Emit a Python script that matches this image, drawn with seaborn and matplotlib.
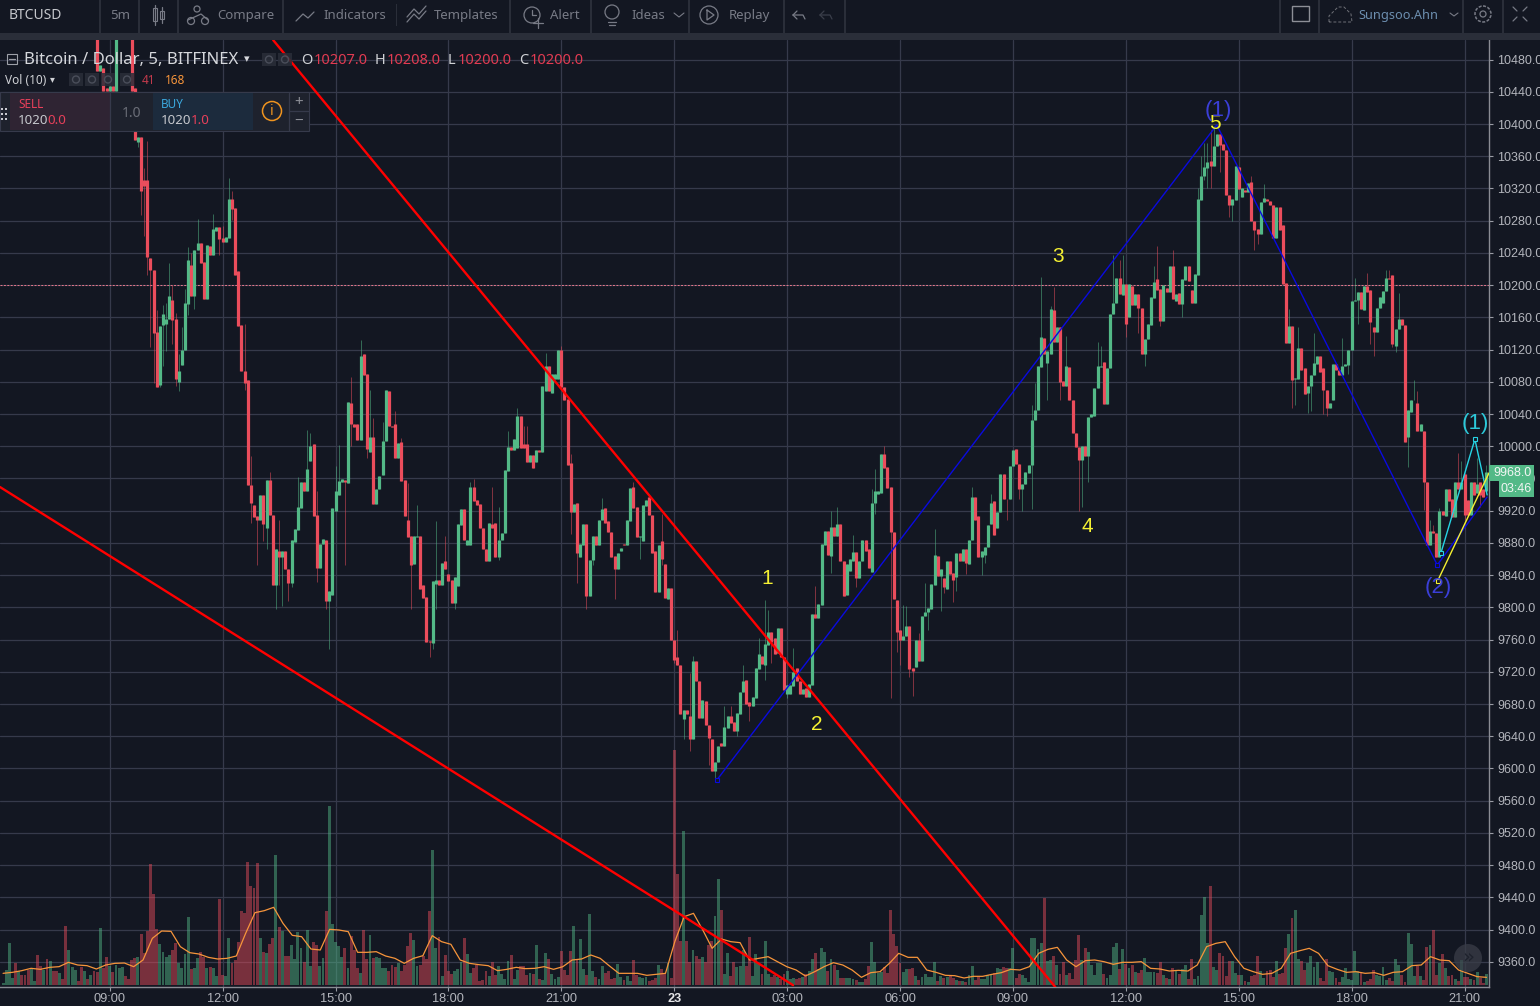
# BTCUSD 5m chart, dark theme
import pandas as pd
import matplotlib
matplotlib.use("Agg")
import matplotlib.pyplot as plt
from matplotlib.patches import Rectangle, Circle
import seaborn as sns

#%% data
first_bar = -34  # bars are counted from 09:00 on the 22nd, 5 minutes each

opens = [10540,10548,10552,10560,10566,10562,10570,10564,10558,10552,10560,10564,10556,10550,10556,10552,10558,10552,10546,10552,
10540,10530,10538,10546,10552,10546,10540,10546,10540,10548,10536,10466,10470,10445,10441,10447,10441,10525,10530,10534,10526,10520,10445,
10378,10384,10331,10331,10234,10219,10142,10076,10150,10152,10158,10182,10158,10080,10101,10120,10177,10225,10186,10243,10252,10229,10183,10249,10238,10267,10272,10259,10254,10259,10307,10296,10217,10150,10094,10082,
9952,9927,9913,9909,9940,9898,9958,9915,9828,9870,9862,9870,9848,9830,9881,9896,9923,9955,9944,9982,10003,9915,9849,9879,9883,9808,9815,9920,9940,9956,9958,9954,10054,10028,10028,10008,10115,10090,9993,10012,9928,9947,9964,10006,10069,10025,10028,9985,10005,9958,9908,9889,9854,9887,9889,9828,9813,9758,9756,9829,9834,9828,9857,9842,9834,9805,9826,9902,9922,9878,9878,9949,9933,9928,9899,9873,9857,9904,9905,9862,9883,9892,9969,9999,9995,9998,10038,10003,10003,9981,9989,9981,9995,9993,10069,10099,10066,10084,10084,10120,10073,10059,9979,9918,9930,9863,9878,9903,9814,9859,9888,9878,9908,9923,9907,9894,9864,9847,9870,9879,9877,9907,9949,9924,9887,9882,9926,9937,9915,9870,9819,9882,9854,9810,9824,9760,9738,9729,9662,9672,9665,9637,9733,9709,9663,9684,9654,9637,9597,9608,9632,9628,9650,9665,9658,9647,9668,9695,9710,9682,9677,9688,9724,9740,9728,9753,9770,9762,9743,9774,9738,9692,9692,9702,9725,9709,9692,9700,9689,9704,9792,9787,9803,9878,9895,9864,9900,9888,9904,9858,9815,9845,9858,9869,9837,9857,9884,9873,9844,9929,9941,9942,9990,9974,9949,9894,9809,9772,9760,9765,9777,9725,9726,9760,9734,9789,9794,9798,9828,9864,9839,9837,9823,9858,9843,9838,9867,9858,9873,9854,9883,9937,9913,9863,9865,9875,9903,9932,9898,9918,9965,9935,9935,9975,9997,9978,9947,9953,9967,9977,10032,10045,10098,10134,10103,10115,10169,10130,10148,10081,10075,10098,10058,10017,9999,9983,10000,9988,10036,10038,10072,10098,10105,10053,10097,10164,10178,10209,10188,10202,10160,10199,10175,10189,10172,10115,10133,10151,10184,10207,10195,10155,10197,10192,10224,10180,10190,10177,10206,10224,10194,10178,10213,10306,10335,10345,10354,10348,10373,10387,10375,10368,10312,10299,10306,10347,10310,10318,10315,10328,10280,10270,10264,10303,10307,10304,10300,10259,10297,10275,10203,10128,10149,10083,10084,10122,10097,10066,10075,10089,10102,10112,10097,10070,10048,10058,10102,10095,10089,10099,10101,10119,10180,10182,10192,10169,10199,10194,10148,10142,10172,10178,10193,10209,10212,10125,10145,10158,10150,10012,10043,10057,10054,10019,10019,9956,9877,9895,9892,9862,9919,9914,9947,9935,9912,9955,9947,9966,9933,9915,9955,9942,9955,9947,9945]

closes = [10548,10552,10560,10566,10562,10570,10564,10558,10552,10560,10564,10556,10550,10556,10552,10558,10552,10546,10552,10540,
10530,10538,10546,10552,10546,10540,10546,10540,10548,10536,10466,10473,10441,10441,10447,10441,10525,10530,10534,10526,10520,10441,10380,
10384,10317,10323,10235,10219,10141,10073,10149,10164,10158,10186,10157,10083,10093,10120,10178,10231,10186,10243,10252,10228,10183,10250,10238,10270,10272,10257,10254,10260,10307,10295,10213,10149,10093,10079,9952,
9929,9912,9908,9940,9903,9958,9915,9828,9872,9862,9870,9847,9830,9883,9897,9924,9955,9944,9972,10000,9914,9849,9879,9885,9808,9820,9923,9945,9957,9959,9956,10055,10028,10024,10008,10112,10089,9997,10012,9928,9947,9963,10007,10070,10025,10024,9985,10004,9957,9913,9887,9852,9888,9889,9823,9812,9757,9757,9833,9834,9828,9855,9847,9833,9805,9838,9903,9922,9884,9884,9949,9932,9927,9898,9872,9857,9905,9898,9862,9884,9892,9970,9999,9995,10009,10038,9998,9998,9980,9989,9973,9995,9993,10075,10099,10068,10090,10090,10119,10073,10058,9977,9918,9928,9867,9879,9903,9814,9859,9888,9878,9909,9922,9905,9893,9862,9847,9868,9874,9877,9908,9948,9923,9887,9889,9927,9933,9915,9867,9819,9878,9860,9812,9824,9759,9735,9729,9667,9672,9667,9637,9733,9708,9663,9685,9654,9638,9597,9608,9628,9628,9652,9665,9657,9647,9669,9695,9708,9680,9677,9689,9725,9742,9730,9754,9770,9757,9742,9774,9738,9698,9704,9703,9720,9708,9692,9699,9689,9705,9792,9787,9804,9879,9895,9865,9900,9888,9904,9857,9814,9854,9860,9869,9837,9858,9884,9870,9849,9929,9945,9945,9990,9973,9948,9893,9810,9770,9759,9765,9777,9724,9721,9760,9734,9789,9794,9799,9829,9865,9839,9848,9825,9858,9842,9834,9867,9858,9873,9855,9884,9937,9908,9863,9870,9875,9902,9930,9890,9918,9965,9935,9934,9975,9995,9978,9947,9953,9968,9977,10032,10045,10099,10135,10115,10118,10170,10130,10148,10080,10075,10099,10057,10017,9999,9983,10000,9988,10036,10040,10072,10100,10099,10052,10097,10164,10178,10209,10189,10202,10152,10202,10175,10189,10171,10114,10133,10152,10185,10204,10194,10155,10200,10192,10224,10183,10189,10177,10207,10224,10205,10178,10214,10307,10335,10347,10353,10348,10373,10388,10374,10368,10312,10299,10307,10348,10319,10320,10315,10327,10280,10269,10264,10303,10308,10305,10300,10259,10297,10269,10202,10128,10149,10082,10085,10122,10095,10065,10075,10089,10103,10112,10092,10070,10048,10054,10102,10095,10089,10099,10102,10119,10180,10182,10192,10170,10199,10192,10154,10142,10172,10185,10193,10209,10207,10127,10145,10158,10150,10005,10045,10058,10058,10019,10027,9956,9877,9895,9892,9862,9919,9915,9947,9932,9912,9955,9947,9955,9915,9915,9955,9940,9953,9940,9937,9968]

high_bars = [11,12,15,17,18,19,20,21,22,23,24,25,26,28,33,36,38,39,43,45,51,54,60,63,64,66,72,73,77,80,83,84,87,91,93,95,98,104,107,115,116,122,124,127,130,132,133,139,144,147,157,167,176,181,185,186,196,198,202,207,209,210,218,225,230,232,237,243,244,247,253,254,258,260,263,275,281,294,295,297,300,301,305,315,316,320,322,323,333,334,339,347,348,349,350,351,352,364,368,376,379,384,393,397,401,407,408,411,416,417,421,422,424,430,431,436,439]
high_vals = [10345,10379,10169,10175,10178,10228,10200,10165,10115,10148,10195,10247,10240,10282,10288,10274,10333,10317,10152,9988,9968,9908,9962,10020,10017,9945,9975,10002,10086,10132,10070,10035,10030,10044,10010,9954,9927,9907,9889,9955,9959,9949,9925,10019,10048,10025,10025,10116,10125,9990,9936,9955,9916,9772,9718,9740,9677,9677,9729,9762,9809,9797,9749,9827,9920,9925,9890,9947,9972,10000,9803,9802,9768,9830,9897,9950,9941,10051,10078,10210,10174,10198,10137,10130,10125,10237,10231,10237,10224,10249,10244,10320,10360,10376,10376,10393,10397,10335,10325,10170,10148,10140,10134,10209,10215,10219,10219,10190,10082,10069,9909,9902,9923,9991,9982,9986,9977]

low_bars = [9,10,11,12,13,14,16,17,18,20,21,22,25,27,35,39,43,45,47,49,50,53,54,55,57,58,66,69,70,75,77,82,96,102,103,104,110,124,147,149,152,154,161,169,176,180,183,185,191,193,200,204,209,211,216,230,238,244,249,251,252,255,256,261,265,266,269,270,273,278,279,286,290,291,294,299,303,309,310,312,324,328,330,335,342,349,350,351,354,357,358,365,366,377,378,382,383,387,388,395,398,402,403,409,410,414,419,432,437]
low_vals = [10372,10287,10261,10212,10123,10078,10073,10100,10118,10127,10075,10068,10163,10170,10238,10281,10070,9905,9853,9882,9872,9798,9828,9802,9808,9825,9831,9798,9748,9852,10000,9986,9798,9738,9748,9798,9798,9859,9891,9830,9798,9852,9810,9860,9852,9731,9636,9622,9604,9587,9640,9659,9710,9731,9688,9843,9825,9916,9688,9745,9728,9713,9690,9772,9796,9818,9807,9820,9841,9840,9855,9909,9934,9920,9922,10057,10057,9920,9925,9955,10135,10141,10099,10149,10160,10330,10320,10320,10341,10285,10280,10243,10251,10048,10051,10041,10044,10040,10037,10090,10152,10127,10112,10123,10117,9974,9921,9909,9925]

volumes = [7,45,125,20,65,42,30,30,45,47,12,90,57,45,78,71,42,42,36,18,177,105,55,45,12,55,42,18,30,42,39,171,51,84,58,39,61,52,54,27,18,75,81,84,153,95,162,363,273,168,123,99,84,90,105,126,66,51,93,204,48,51,81,99,84,51,54,51,27,258,30,27,141,66,75,129,222,216,369,297,291,366,141,99,96,123,141,390,174,162,87,87,120,78,159,111,69,165,57,129,120,57,81,222,537,183,129,117,84,111,51,147,105,51,36,165,78,150,81,84,81,51,51,42,60,54,66,42,60,117,156,135,57,60,87,78,222,405,111,144,27,90,42,33,42,48,69,141,93,36,51,60,12,15,42,27,69,30,57,33,18,72,90,18,45,
57,57,30,35,32,120,18,15,95,78,33,18,23,102,45,30,103,177,75,138,47,30,213,42,24,18,57,36,42,18,21,63,24,15,27,12,75,30,24,21,24,12,15,21,60,48,33,66,21,705,333,132,462,132,69,105,87,78,84,69,120,132,207,318,225,33,96,27,69,54,57,105,57,144,27,93,66,33,132,33,24,30,24,18,33,42,18,21,19,21,24,33,42,78,96,48,111,99,42,78,60,45,21,21,21,21,18,15,9,9,18,57,129,69,36,39,54,36,225,153,117,66,39,48,48,51,27,15,24,33,24,24,69,12,27,21,24,27,21,15,12,12,9,30,57,15,24,18,18,30,33,36,51,48,54,51,51,111,21,33,30,21,9,
141,141,108,126,261,73,75,87,60,33,69,30,36,18,75,150,75,111,99,60,30,66,66,33,21,30,114,126,48,108,63,51,60,39,36,45,81,39,39,39,36,69,30,21,18,51,42,33,48,60,18,78,18,27,210,264,126,297,54,45,96,87,27,72,72,36,30,30,12,9,27,30,87,42,21,42,45,24,72,33,36,111,153,201,225,78,72,45,66,87,54,69,21,12,78,42,39,21,9,24,51,18,15,102,42,39,9,12,18,45,30,27,54,15,21,12,78,60,30,9,156,123,27,57,27,15,114,120,165,30,66,93,51,27,30,18,12,75,24,24,18,15,39,21,6,33]

# Vol (10) average, read at even steps along the time axis
vol_ma = [35,38,43,50,47,53,55,68,60,58,48,60,65,66,55,75,140,162,161,115,97,93,83,78,80,87,155,217,223,233,185,149,145,108,105,167,165,160,98,98,100,87,80,65,80,88,148,130,122,75,65,61,58,43,47,53,
49,50,55,47,55,75,78,90,80,57,35,35,35,29,32,35,130,205,215,165,110,138,130,127,75,80,85,70,55,45,27,40,55,67,60,45,23,37,40,65,95,83,83,45,38,29,28,21,26,26,32,37,47,45,55,
95,107,113,75,55,73,75,70,62,68,68,70,50,48,42,44,42,60,115,125,130,85,50,40,32,35,50,95,103,110,95,58,47,38,40,35,37,29,38,40,58,60,85,75,73,45,35,25,23]

price_ticks = list(range(9360, 10481, 40))
time_bars = [0, 36, 72, 108, 144, 180, 216, 252, 288, 324, 360, 396, 432]
time_labels = ["09:00", "12:00", "15:00", "18:00", "21:00", "23", "03:00", "06:00", "09:00", "12:00", "15:00", "18:00", "21:00"]

red_a_bars, red_a_prices = [52.1, 301.5], [10504.3, 9328.7]
red_b_bars, red_b_prices = [-35, 217.9], [9949.4, 9331]
blue_bars, blue_prices = [193.6, 353, 423.3, 439.2], [9585.7, 10398.8, 9852.6, 9937]
cyan_bars, cyan_prices = [424.5, 435.3, 439.2], [9867.8, 10008.6, 9939.5]
yellow_bars, yellow_prices = [423.4, 439.8], [9832.7, 9966.8]

#%% style
BG = "#131722"
GRID = "#363a4b"
UP = "#53b987"
DOWN = "#eb4d5c"
TXT = "#787b86"
sns.set_theme(style="dark", rc={"figure.facecolor": BG, "axes.facecolor": BG, "savefig.facecolor": BG})
plt.rcParams["font.family"] = ["Liberation Sans", "DejaVu Sans"]

n = len(opens)
df = pd.DataFrame({"bar": range(first_bar, first_bar + n), "open": opens, "close": closes})
df["up"] = df["close"] >= df["open"]
df["high"] = df[["open", "close"]].max(axis=1)
df["low"] = df[["open", "close"]].min(axis=1)
df = df.set_index("bar")
for b, v in zip(high_bars, high_vals):
    df.loc[b, "high"] = max(v, df.loc[b, "high"])
for b, v in zip(low_bars, low_vals):
    df.loc[b, "low"] = min(v, df.loc[b, "low"])
df = df.reset_index()

vol = pd.DataFrame({"bar": range(first_bar, first_bar + len(volumes)), "volume": volumes})
vol = vol.merge(df[["bar", "up"]], on="bar", how="left")
vol["side"] = vol["up"].map({True: "up", False: "down"}).fillna("up")
ma_step = 473 / (len(vol_ma) - 1)
ma = pd.DataFrame({"bar": [first_bar + ma_step * i for i in range(len(vol_ma))], "vol": vol_ma})

#%% figure
fig = plt.figure(figsize=(15.4, 10.06), dpi=100)
rect = [0, 19 / 1006, 1489 / 1540, 947 / 1006]
ax_bg = fig.add_axes(rect, zorder=0)
ax_vol = fig.add_axes(rect, zorder=1)
ax = fig.add_axes(rect, zorder=2)
ax.patch.set_alpha(0)
ax_vol.patch.set_alpha(0)

xlim = (-34.98, 439.8)
ylim = (9328.7, 10504.3)

# grid sits under the volume bars
ax_bg.set_xlim(*xlim)
ax_bg.set_ylim(*ylim)
ax_bg.set_xticks(time_bars)
ax_bg.set_yticks(price_ticks)
ax_bg.grid(True, color=GRID, linewidth=0.9)
ax_bg.tick_params(labelbottom=False, labelleft=False, length=0)
for s in ax_bg.spines.values():
    s.set_visible(False)

# volume, 1 unit is a third of a pixel
sns.barplot(data=vol, x="bar", y="volume", hue="side", hue_order=["up", "down"],
            palette={"up": UP, "down": DOWN}, native_scale=True, dodge=False, width=0.92,
            errorbar=None, legend=False, saturation=1, alpha=0.47, linewidth=0, ax=ax_vol)
sns.lineplot(data=ma, x="bar", y="vol", color="#f7953b", linewidth=0.9, ax=ax_vol)
ax_vol.set_xlim(*xlim)
ax_vol.set_ylim(-6, 947 * 3 - 6)
ax_vol.axis("off")

# candles
colors = [UP if u else DOWN for u in df["up"]]
ax.vlines(df["bar"], df["low"], df["high"], colors=colors, linewidth=0.72, alpha=0.5, zorder=3)
ax.vlines(df["bar"], df[["open", "close"]].min(axis=1), df[["open", "close"]].max(axis=1),
          colors=colors, linewidth=2.3, capstyle="butt", zorder=4)

# drawn lines
sns.lineplot(x=red_a_bars, y=red_a_prices, color="#ff0000", linewidth=1.7, ax=ax, zorder=6)
sns.lineplot(x=red_b_bars, y=red_b_prices, color="#ff0000", linewidth=1.7, ax=ax, zorder=6)
sns.lineplot(x=blue_bars, y=blue_prices, color="#0a0ae0", linewidth=1.0, ax=ax, zorder=6, sort=False)
sns.lineplot(x=cyan_bars, y=cyan_prices, color="#26d4e4", linewidth=1.0, ax=ax, zorder=6, sort=False)
sns.lineplot(x=yellow_bars, y=yellow_prices, color="#f5f132", linewidth=1.0, ax=ax, zorder=6, sort=False)
for xs, ys, c in [(blue_bars, blue_prices, "#0a0ae0"), (cyan_bars, cyan_prices, "#26d4e4"), (yellow_bars, yellow_prices, "#f5f132")]:
    ax.plot(xs[0], ys[0], "s", ms=3, mfc=BG, mec=c, mew=0.8, zorder=7)
ax.plot(cyan_bars[1], cyan_prices[1], "s", ms=3, mfc=BG, mec="#26d4e4", mew=0.8, zorder=7)
ax.plot(blue_bars[2], blue_prices[2], "s", ms=3, mfc=BG, mec="#0a0ae0", mew=0.8, zorder=7)

# last price line
ax.axhline(10200, color="#e8778a", linewidth=0.7, linestyle=(0, (2, 1.5)), zorder=2.5)

ax.set_xlim(*xlim)
ax.set_ylim(*ylim)
ax.set_xlabel("")
ax.set_ylabel("")
ax.set_yticks(price_ticks)
ax.set_yticklabels([f"{p:.1f}" for p in price_ticks])
ax.set_xticks(time_bars)
ax.set_xticklabels(time_labels)
ax.yaxis.tick_right()
ax.grid(False)
ax.tick_params(axis="y", length=3, width=0.8, color="#9a9ca5", labelcolor="#b4b6bd", labelsize=9, pad=3, right=True)
ax.tick_params(axis="x", length=3, width=0.8, color="#9a9ca5", labelcolor="#b4b6bd", labelsize=9.2, pad=1, bottom=True)
ax.get_xticklabels()[5].set_color("#e6e6e8")
ax.get_xticklabels()[5].set_fontweight("bold")
for s in ["top", "left"]:
    ax.spines[s].set_visible(False)
for s in ["right", "bottom"]:
    ax.spines[s].set_visible(True)
    ax.spines[s].set_color("#8a8c94")
    ax.spines[s].set_linewidth(1)

#%% everything in pixel positions on top
ui = fig.add_axes([0, 0, 1, 1], zorder=5)
ui.set_xlim(0, 1540)
ui.set_ylim(1006, 0)
ui.axis("off")
ui.patch.set_alpha(0)

def box(x0, y0, x1, y1, color, **kw):
    ui.add_patch(Rectangle((x0, y0), x1 - x0, y1 - y0, facecolor=color, edgecolor=kw.pop("edge", "none"), linewidth=kw.pop("lw", 0.8), **kw))

def label(x, y, s, color=TXT, size=9.5, ha="left", family="Noto Sans", **kw):
    ui.text(x, y, s, color=color, fontsize=size, ha=ha, va="center", family=family, **kw)

def stroke(xs, ys, color=TXT, lw=0.9, ls="-"):
    ui.plot(xs, ys, color=color, linewidth=lw, solid_capstyle="round", linestyle=ls)

# toolbar
box(0, 0, 1540, 33, BG)
box(0, 33, 1540, 40, "#2a2e39")
for x in [100, 139, 178, 283, 510, 591, 689, 784, 845, 1280, 1319, 1463, 1503]:
    box(x - 0.7, 0, x + 0.7, 33, "#2a2e39")
box(395.5, 4, 396.5, 26, "#2a2e39")
label(9, 15, "BTCUSD", color="#c5c7cc", size=10, weight="bold")
label(110, 15, "5m")
label(217, 15, "Compare")
label(323, 15, "Indicators")
label(434, 15, "Templates")
label(550, 15, "Alert")
label(631, 15, "Ideas")
label(729, 15, "Replay")
label(1358, 15, "Sungsoo.Ahn", color="#6d8fb0", size=9.2)

# toolbar icons, rough
box(153, 8, 157, 21, BG, edge=TXT)
box(160, 11, 164, 19, BG, edge=TXT)
stroke([155, 155], [5, 25])
stroke([162, 162], [7, 23])
stroke([188, 201, 208], [20, 14, 20])
ui.add_patch(Circle((197, 9), 3, facecolor=BG, edgecolor=TXT, lw=0.9))
ui.add_patch(Circle((191, 21), 3.5, facecolor=BG, edgecolor=TXT, lw=0.9))
ui.add_patch(Circle((205, 21), 3.5, facecolor=BG, edgecolor=TXT, lw=0.9))
stroke([296, 303, 308, 314], [21, 14, 18, 12])
stroke([407, 414, 419, 426], [17, 9, 14, 6])
stroke([407, 414, 419, 426], [22, 14, 19, 11])
ui.add_patch(Circle((532, 15), 8, facecolor=BG, edgecolor=TXT, lw=0.9))
stroke([532, 532, 536], [10, 15, 15])
stroke([538, 538], [18, 28])
stroke([533, 543], [23, 23])
ui.add_patch(Circle((612, 12), 7, facecolor=BG, edgecolor=TXT, lw=0.9))
stroke([608, 616], [22, 22])
stroke([609, 615], [25, 25])
ui.add_patch(Circle((709, 15), 9, facecolor=BG, edgecolor=TXT, lw=0.9))
stroke([707, 707, 714, 707], [10, 20, 15, 10])
stroke([674, 679, 684], [13, 17, 13], lw=0.8)
stroke([793, 797], [15, 11])
stroke([793, 797], [15, 19])
stroke([793, 803, 805], [15, 15, 19])
stroke([820, 824], [15, 11], color="#3a3e4a")
stroke([820, 824], [15, 19], color="#3a3e4a")
stroke([820, 830, 832], [15, 15, 19], color="#3a3e4a")
box(1292, 6, 1309, 21, BG, edge="#8d8f97", lw=1)
stroke([1329, 1329, 1333, 1338, 1344, 1351, 1352, 1329], [22, 16, 12, 7, 7, 14, 22, 22], color="#6f7178", lw=0.7, ls=(0, (3, 2)))
stroke([1450, 1454, 1458], [13, 16, 13], lw=0.8)
ui.add_patch(Circle((1483, 14), 3, facecolor=BG, edgecolor=TXT, lw=0.9))
ui.add_patch(Circle((1483, 14), 8, facecolor="none", edgecolor=TXT, lw=1.1, linestyle=(0, (2, 1))))
for dx, dy in [(-1, -1), (1, -1), (-1, 1), (1, 1)]:
    stroke([1520 + dx * 3, 1520 + dx * 7], [14 + dy * 3, 14 + dy * 7])

# header over the chart
box(7, 54, 17, 64, "none", edge="#9da0a8")
stroke([9, 15], [59, 59], color="#9da0a8")
label(24, 60, "Bitcoin / Dollar, 5, BITFINEX", color="#d6d8dc", size=12)
label(244, 59, "▾", color="#d6d8dc", size=8, family="DejaVu Sans")
for x in [262, 278]:
    box(x, 53, x + 14, 66, "#2a2e39", alpha=0.85)
    ui.add_patch(Circle((x + 7, 59.5), 3.5, facecolor="none", edgecolor="#4a4e5a", lw=1))
label(301, 60, "O", color="#d0d2d6", size=10.5)
label(314, 60, "10207.0", color="#e23b52", size=10.5)
label(375, 60, "H", color="#d0d2d6", size=10.5)
label(387, 60, "10208.0", color="#e23b52", size=10.5)
label(448, 60, "L", color="#d0d2d6", size=10.5)
label(458, 60, "10200.0", color="#e23b52", size=10.5)
label(519, 60, "C", color="#d0d2d6", size=10.5)
label(530, 60, "10200.0", color="#e23b52", size=10.5)
label(5, 80, "Vol (10)", color="#d0d2d6", size=8.5)
label(50, 79, "▾", color="#d0d2d6", size=7, family="DejaVu Sans")
for x in [69, 85, 101, 120]:
    box(x, 73, x + 14, 86, "#2a2e39", alpha=0.85)
    ui.add_patch(Circle((x + 7, 79.5), 3.5, facecolor="none", edgecolor="#4a4e5a", lw=1))
label(142, 80, "41", color="#c23a4c", size=8.5)
label(165, 80, "168", color="#f7953b", size=8.5)

# order panel
box(0, 92, 309, 131, "#1e222d", edge="#363a4b")
box(10, 93, 110, 130, "#2f2433")
box(153, 93, 253, 130, "#1c2b3d")
box(253, 93, 289, 130, "#1e222d")
stroke([110, 110], [93, 130], color="#363a4b")
stroke([289, 289], [93, 130], color="#363a4b")
stroke([289, 309], [111, 111], color="#363a4b")
for y in [108, 113, 118]:
    for x in [1, 5]:
        box(x, y, x + 2, y + 2, "#c8cad0")
label(18, 104, "SELL", color="#e8405a", size=8.5)
label(18, 120, "1020", color="#c6c8cd", size=9.6)
label(47.5, 120, "0.0", color="#e8405a", size=9.6)
label(132, 113, "1.0", color="#6b6e78", size=10, ha="center")
label(161, 104, "BUY", color="#3ba7dc", size=8.5)
label(161, 120, "1020", color="#c6c8cd", size=9.6)
label(190.5, 120, "1.0", color="#e8405a", size=9.6)
ui.add_patch(Circle((272, 111), 9.5, facecolor="none", edgecolor="#f0941f", lw=1.1))
label(272, 111, "i", color="#f0941f", size=10, ha="center", weight="bold")
label(299, 102, "+", color="#8d8f97", size=11, ha="center", weight="bold")
label(299, 121, "−", color="#8d8f97", size=11, ha="center", weight="bold")

# wave counts
for x, y, s in [(767, 579, "1"), (817, 724, "2"), (1058, 257, "3"), (1087, 526, "4"), (1215, 123, "5")]:
    label(x, y, s, color="#f5f132", size=15, ha="center", family="Liberation Sans")
label(1218, 110, "(1)", color="#3b3fd8", size=16, ha="center", family="Liberation Sans")
label(1438, 587, "(2)", color="#3b3fd8", size=16, ha="center", family="Liberation Sans")
label(1475, 424, "(1)", color="#2cc9d9", size=16, ha="center", family="Liberation Sans")

# price tags
box(1489, 465, 1534, 481, UP)
box(1499, 481, 1534, 497, UP)
label(1513, 473.5, "9968.0", color="#f2f5f3", size=9, ha="center", family="Liberation Sans")
label(1516, 489.5, "03:46", color="#f2f5f3", size=9, ha="center", family="Liberation Sans")

# scroll button
ui.add_patch(Circle((1468, 958), 14, facecolor="#3a3d48", edgecolor="none", alpha=0.75))
label(1468, 957, "»", color="#1e222d", size=14, ha="center", family="DejaVu Sans")

fig.savefig("out.png", dpi=100)
